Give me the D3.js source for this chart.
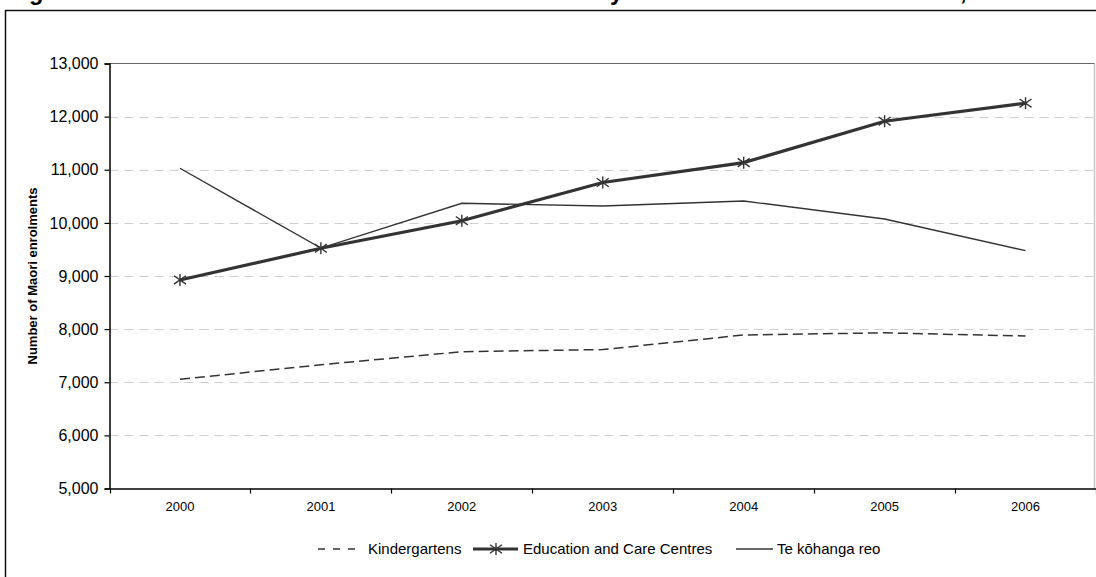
<!DOCTYPE html>
<html>
<head>
<meta charset="utf-8">
<script src="https://cdn.jsdelivr.net/npm/d3@7"></script>
<style>
  html, body { margin: 0; padding: 0; background: #fff; }
  svg { display: block; font-family: Arial, "Liberation Sans", sans-serif; }
</style>
</head>
<body>
<svg id="chart" width="1096" height="577"></svg>
<script>
const titleText = "Figure 5: Number of Maori enrolments in selected early childhood education services, 2000\u20132006";
const yAxisTitle = "Number of Maori enrolments";
const years = ["2000", "2001", "2002", "2003", "2004", "2005", "2006"];
const kindergartens = [7055, 7330, 7575, 7615, 7890, 7930, 7870];
const educationCareCentres = [8925, 9522, 10041, 10760, 11134, 11913, 12252];
const teKohangaReo = [11028, 9525, 10369, 10318, 10412, 10073, 9477];
const yTickValues = [5000, 6000, 7000, 8000, 9000, 10000, 11000, 12000, 13000];
const seriesNames = ["Kindergartens", "Education and Care Centres", "Te k\u014dhanga reo"];

const svg = d3.select("#chart");
const W = 1096, H = 577;
svg.append("rect").attr("width", W).attr("height", H).attr("fill", "#fff");

// title (cut off at the top, as in the reference)
svg.append("text")
  .attr("x", 8).attr("y", 0)
  .attr("font-size", 23.5).attr("font-weight", "bold").attr("fill", "#000")
  .text(titleText);

// outer frame
svg.append("rect")
  .attr("x", 5.5).attr("y", 10.5).attr("width", 1200).attr("height", 700)
  .attr("fill", "none").attr("stroke", "#111").attr("stroke-width", 1.5);

const plot = { left: 109.5, right: 1096, top: 63.5, bottom: 488.5 };

const x = d3.scaleBand().domain(years).range([plot.left, plot.right]).padding(0);
const y = d3.scaleLinear().domain([5000, 13000]).range([plot.bottom, plot.top]);
const cx = d => x(d) + x.bandwidth() / 2;

// gridlines
svg.append("g").selectAll("line")
  .data(yTickValues.filter(v => v > 5000 && v < 13000))
  .join("line")
  .attr("x1", plot.left).attr("x2", plot.right - 1)
  .attr("y1", d => Math.round(y(d)) + 0.5).attr("y2", d => Math.round(y(d)) + 0.5)
  .attr("stroke", "#cfcfcf").attr("stroke-width", 1.2)
  .attr("stroke-dasharray", "9,6");

// plot area border (top dark, right light)
svg.append("line")
  .attr("x1", plot.left).attr("x2", plot.right - 1)
  .attr("y1", y(13000)).attr("y2", y(13000))
  .attr("stroke", "#666").attr("stroke-width", 1);
svg.append("line")
  .attr("x1", plot.right - 1.5).attr("x2", plot.right - 1.5)
  .attr("y1", plot.top).attr("y2", plot.bottom)
  .attr("stroke", "#c8c8c8").attr("stroke-width", 1.5);

// y axis
const yAxis = d3.axisLeft(y).tickValues(yTickValues).tickSize(5).tickPadding(6)
  .tickFormat(d3.format(","));
const gy = svg.append("g").attr("transform", `translate(${plot.left},0)`).call(yAxis);
gy.select(".domain").attr("stroke", "#000").attr("stroke-width", 1.5);
gy.selectAll(".tick line").attr("stroke", "#000").attr("stroke-width", 1.2);
gy.selectAll(".tick text").attr("font-size", 16).attr("fill", "#000")
  .attr("font-family", "Arial, 'Liberation Sans', sans-serif");

// x axis
const xAxis = d3.axisBottom(x).tickSize(0).tickPadding(13);
const gx = svg.append("g").attr("transform", `translate(0,${plot.bottom})`).call(xAxis);
gx.select(".domain").attr("stroke", "#000").attr("stroke-width", 1.5);
gx.selectAll(".tick text").attr("font-size", 13).attr("fill", "#000")
  .attr("font-family", "Arial, 'Liberation Sans', sans-serif");
// x tick marks at category boundaries
const boundaries = years.map(d => x(d)).concat([x(years[years.length - 1]) + x.bandwidth()]);
svg.append("g").selectAll("line").data(boundaries).join("line")
  .attr("x1", d => Math.round(d) + 0.5).attr("x2", d => Math.round(d) + 0.5)
  .attr("y1", plot.bottom).attr("y2", plot.bottom + 5)
  .attr("stroke", "#000").attr("stroke-width", 1.2);

// y axis title
svg.append("text")
  .attr("transform", `translate(37,${(plot.top + plot.bottom) / 2}) rotate(-90)`)
  .attr("text-anchor", "middle")
  .attr("font-size", 13).attr("font-weight", "bold").attr("fill", "#000")
  .text(yAxisTitle);

const line = d3.line().x(d => cx(d[0])).y(d => y(d[1]));
const zip = arr => years.map((yr, i) => [yr, arr[i]]);

// star marker path (asterisk: vertical + X)
const starPath = (r) => `M0,${-r}L0,${r}M${-r},${-r * 0.7}L${r},${r * 0.7}M${-r},${r * 0.7}L${r},${-r * 0.7}`;

// Te kōhanga reo
svg.append("path").datum(zip(teKohangaReo)).attr("d", line)
  .attr("fill", "none").attr("stroke", "#333").attr("stroke-width", 1.4);

// Kindergartens
svg.append("path").datum(zip(kindergartens)).attr("d", line)
  .attr("fill", "none").attr("stroke", "#333").attr("stroke-width", 1.5)
  .attr("stroke-dasharray", "10,5");

// Education and Care Centres
svg.append("path").datum(zip(educationCareCentres)).attr("d", line)
  .attr("fill", "none").attr("stroke", "#333").attr("stroke-width", 3.2);
svg.append("g").selectAll("path").data(zip(educationCareCentres)).join("path")
  .attr("transform", d => `translate(${cx(d[0])},${y(d[1])})`)
  .attr("d", starPath(6))
  .attr("fill", "none").attr("stroke", "#333").attr("stroke-width", 1.4);

// legend
const ly = 549;
const lg = svg.append("g").attr("font-size", 15).attr("fill", "#000");
lg.append("line").attr("x1", 318).attr("x2", 358).attr("y1", ly).attr("y2", ly)
  .attr("stroke", "#333").attr("stroke-width", 1.5).attr("stroke-dasharray", "7,8");
lg.append("text").attr("x", 368).attr("y", ly).attr("dy", "0.35em").text(seriesNames[0]);
lg.append("line").attr("x1", 473).attr("x2", 518).attr("y1", ly).attr("y2", ly)
  .attr("stroke", "#333").attr("stroke-width", 3.2);
lg.append("path").attr("transform", `translate(496,${ly})`).attr("d", starPath(6))
  .attr("fill", "none").attr("stroke", "#333").attr("stroke-width", 1.4);
lg.append("text").attr("x", 523).attr("y", ly).attr("dy", "0.35em").text(seriesNames[1]);
lg.append("line").attr("x1", 736).attr("x2", 773).attr("y1", ly).attr("y2", ly)
  .attr("stroke", "#333").attr("stroke-width", 1.4);
lg.append("text").attr("x", 777).attr("y", ly).attr("dy", "0.35em").text(seriesNames[2]);
</script>
</body>
</html>
